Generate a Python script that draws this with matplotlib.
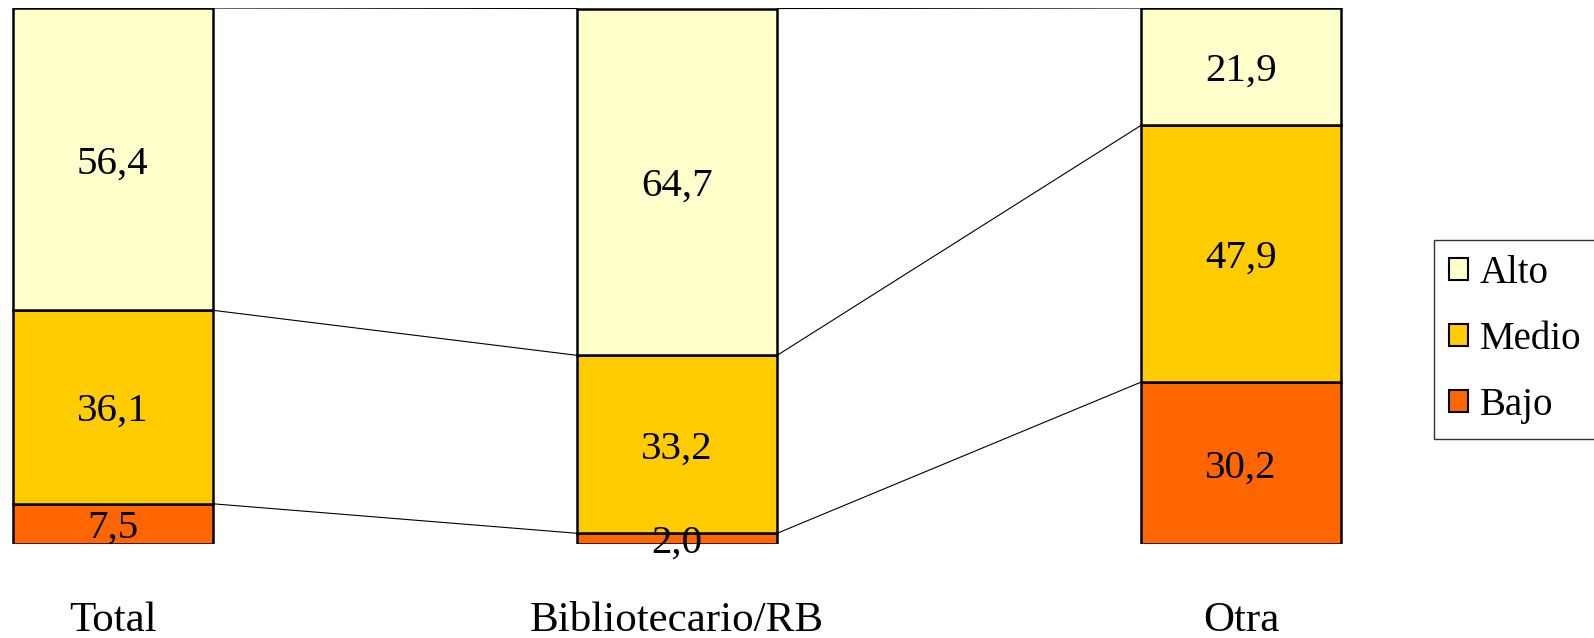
import numpy as np
import matplotlib.pyplot as plt

plt.rcParams['font.family'] = ['Liberation Serif', 'DejaVu Serif']

groups = ["Total", "Bibliotecario/RB", "Otra"]
series = ["Bajo", "Medio", "Alto"]
bajo = [7.5, 2.0, 30.2]
medio = [36.1, 33.2, 47.9]
alto = [56.4, 64.7, 21.9]
colors = ["#FF6600", "#FFCC00", "#FFFFCC"]

fig = plt.figure(figsize=(15.94, 6.38), dpi=100)
ax = fig.add_axes([0.0, 94 / 638, 1354 / 1594, 536 / 638])

x = np.arange(len(groups))
width = 0.355
values = [np.array(bajo), np.array(medio), np.array(alto)]
bottom = np.zeros(len(groups))
bounds = []
for name, vals, col in zip(series, values, colors):
    ax.bar(x, vals, bottom=bottom, width=width, color=col,
           edgecolor="black", linewidth=1.8, label=name, zorder=3)
    for xi, b, v in zip(x, bottom, vals):
        ax.annotate(f"{v:.1f}".replace(".", ","), (xi, b + v / 2),
                    xytext=(0, -3.3), textcoords="offset points",
                    ha="center", va="center", fontsize=29.5, zorder=4)
    bottom = bottom + vals
    bounds.append(bottom.copy())

# series lines between bars
for b in bounds:
    for i in range(len(groups) - 1):
        ax.plot([x[i] + width / 2, x[i + 1] - width / 2], [b[i], b[i + 1]],
                color="black", linewidth=0.8, zorder=2)

for xi, g in zip(x, groups):
    ax.text(xi, -14.3, g, ha="center", va="center", fontsize=31,
            clip_on=False)

ax.set_xlim(-0.2, 2.2)
ax.set_ylim(0, 100)
ax.axis("off")

handles, labels = ax.get_legend_handles_labels()
leg = fig.legend(handles[::-1], labels[::-1], loc="upper left",
                 bbox_to_anchor=(1434 / 1594, 1 - 240 / 638),
                 fontsize=28, frameon=True, fancybox=False,
                 handlelength=0.5, handleheight=0.5, handletextpad=0.3,
                 labelspacing=0.75, borderpad=0.38, borderaxespad=0)
leg.get_frame().set_edgecolor("black")
leg.get_frame().set_linewidth(1.0)
for h in leg.legend_handles:
    h.set_linewidth(1.5)

fig.savefig("out.png", dpi=100)
